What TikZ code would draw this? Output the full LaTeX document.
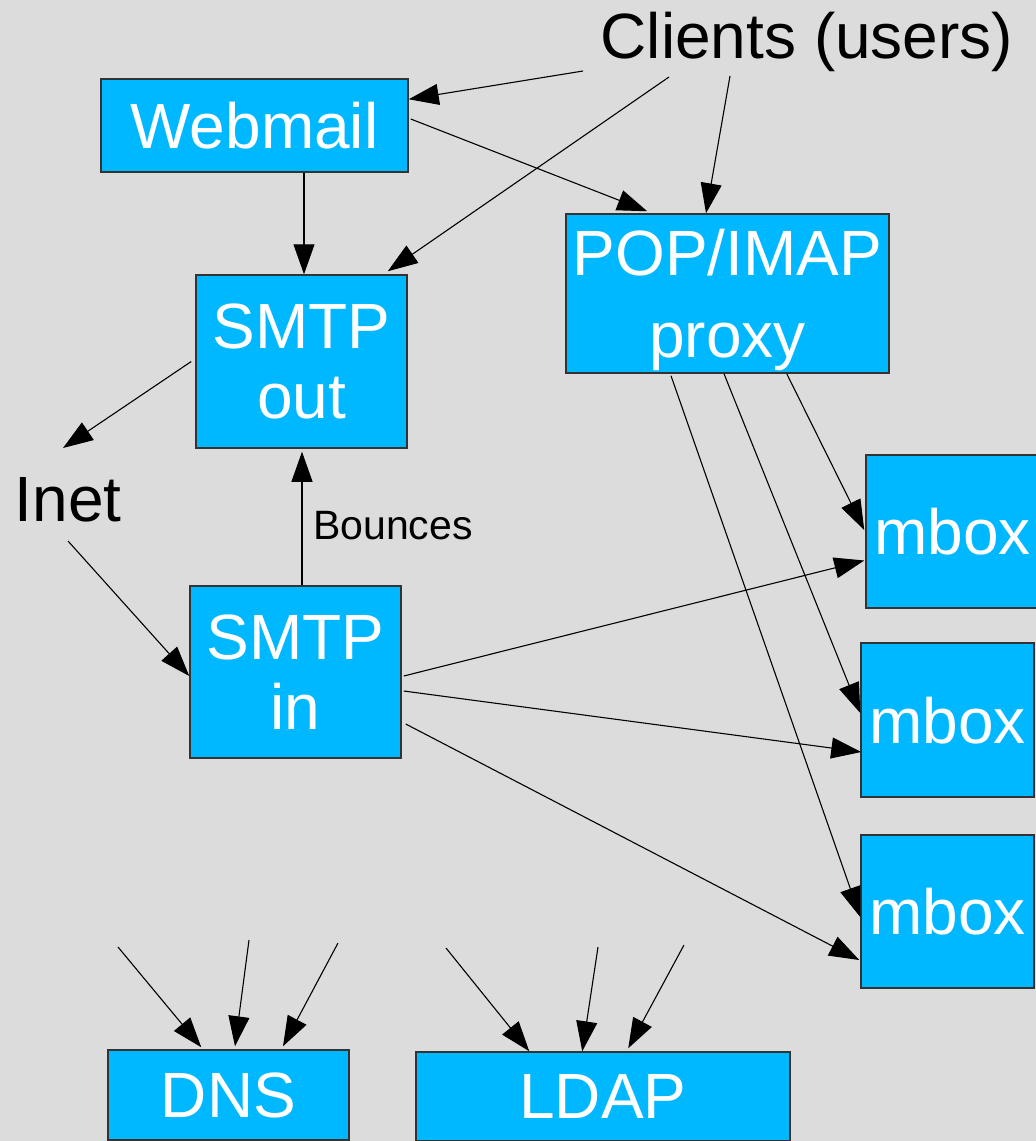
\documentclass[tikz,border=0pt]{standalone}
\usepackage{fontspec}
\setmainfont{Liberation Sans}
\usetikzlibrary{arrows.meta}
\definecolor{bgc}{HTML}{DCDCDC}
\definecolor{boxc}{HTML}{00B8FF}
\definecolor{edgec}{HTML}{333333}
\begin{document}
\begin{tikzpicture}[x=1pt,y=-1pt,
  box/.style={draw=edgec, line width=1.5pt, fill=boxc, text=white,
    font=\fontsize{64}{70}\selectfont, align=center, inner sep=0pt, text depth=0pt},
  big/.style={font=\fontsize{64}{70}\selectfont, inner sep=0pt, text=black},
  small/.style={font=\fontsize{41}{46}\selectfont, inner sep=0pt, text=black},
  conn/.style={draw=black, line width=1.1pt, -{Triangle[length=30pt,width=21pt]}}]
\useasboundingbox (0,0) rectangle (1036,1141);
\fill[bgc] (0,0) rectangle (1036,1141);
\clip (0,0) rectangle (1036,1141);

% boxes
\node[box, minimum width=307pt, minimum height=93pt] (webmail) at (254.5,125.5) {Webmail};
\node[box, minimum width=211pt, minimum height=173pt] (smtpout) at (301.5,361.5) {SMTP\\out};
\node[box, minimum width=323pt, minimum height=159pt, font=\fontsize{64}{82}\selectfont] (pop) at (727.5,293.5) {POP/IMAP\\proxy};
\node[box, minimum width=211pt, minimum height=172pt] (smtpin) at (295.5,672) {SMTP\\in};
\node[box, minimum width=173pt, minimum height=153pt] (mboxa) at (952.5,531.5) {mbox};
\node[box, minimum width=173pt, minimum height=154pt] (mboxb) at (947.5,720) {mbox};
\node[box, minimum width=173pt, minimum height=153pt] (mboxc) at (947.5,911.5) {mbox};
\node[box, minimum width=241pt, minimum height=90pt] (dns) at (228.5,1095) {DNS};
\node[box, minimum width=374pt, minimum height=89pt] (ldap) at (603,1096.5) {LDAP};

% labels
\node[big, anchor=base] (clients) at (807,58) {Clients (users)};
\node[big, anchor=base] (inet) at (68,521) {Inet};
\node[small, anchor=base west] (bounces) at (313,539) {Bounces};

% free ends
\coordinate (cla) at (583,71);
\coordinate (clb) at (669,77);
\coordinate (clc) at (730,76);
\coordinate (ineta) at (63,448);
\coordinate (inetb) at (68,541);
\coordinate (dnsa) at (118,947);
\coordinate (dnsb) at (249,940);
\coordinate (dnsc) at (338,943);
\coordinate (ldapa) at (446,948);
\coordinate (ldapb) at (598,947);
\coordinate (ldapc) at (684,945);

% connectors
\draw[conn] (cla) -- ([shift={(0,21)}]webmail.north east);
\draw[conn] (clb) -- ([shift={(-20,-3)}]smtpout.north east);
\draw[conn] (clc) -- ([shift={(-21.5,0)}]pop.north);
\draw[conn] ([shift={(2,-6.5)}]webmail.east) -- ([shift={(82,-2)}]pop.north west);
\draw[conn] ([shift={(49.5,0)}]webmail.south) -- ([shift={(2.5,0)}]smtpout.north);
\draw[conn] ([shift={(-4,0)}]smtpout.west) -- (ineta);
\draw[conn] ([shift={(6.5,0)}]smtpin.north) -- ([shift={(0.5,3)}]smtpout.south);
\draw[conn] (inetb) -- ([shift={(0,4)}]smtpin.west);
\draw[conn] ([shift={(2,4)}]smtpin.east) -- ([shift={(-1,29)}]mboxa.west);
\draw[conn] ([shift={(2,19)}]smtpin.east) -- ([shift={(1,32)}]mboxb.west);
\draw[conn] ([shift={(4,52)}]smtpin.east) -- ([shift={(-1,48.5)}]mboxc.west);
\draw[conn] ([shift={(-103,0)}]pop.south east) -- ([shift={(-1,-1.5)}]mboxa.west);
\draw[conn] ([shift={(-3.5,0)}]pop.south) -- ([shift={(0,-7)}]mboxb.west);
\draw[conn] ([shift={(-56.5,2)}]pop.south) -- ([shift={(0,5.5)}]mboxc.west);
\draw[conn] (dnsa) -- ([shift={(94,-2)}]dns.north west);
\draw[conn] (dnsb) -- ([shift={(6.5,-3)}]dns.north);
\draw[conn] (dnsc) -- ([shift={(54.5,-3)}]dns.north);
\draw[conn] (ldapa) -- ([shift={(114,0)}]ldap.north west);
\draw[conn] (ldapb) -- ([shift={(167,0)}]ldap.north west);
\draw[conn] (ldapc) -- ([shift={(213,-3)}]ldap.north west);
\end{tikzpicture}
\end{document}
